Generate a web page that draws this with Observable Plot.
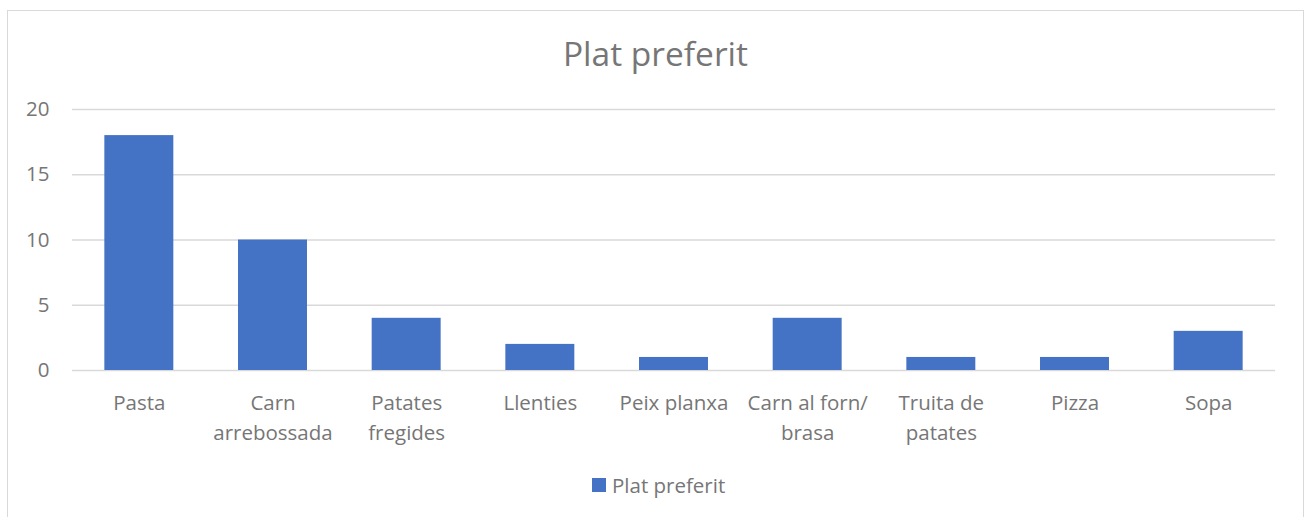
<!DOCTYPE html>
<html>
<head>
<meta charset="utf-8">
<script src="https://cdn.jsdelivr.net/npm/d3@7"></script>
<script src="https://cdn.jsdelivr.net/npm/@observablehq/plot@0.6"></script>
<style>
  html, body { margin: 0; padding: 0; background: #fff; }
  #wrap { position: relative; width: 1309px; height: 517px; overflow: hidden; font-family: "Open Sans", sans-serif; }
  #frame { position: absolute; left: 7px; top: 10px; width: 1297px; height: 520px; border: 1px solid #d9d9d9; box-sizing: border-box; }
  #title { position: absolute; left: 7px; width: 1297px; top: 33px; line-height: 40px; text-align: center; font-size: 33.5px; color: #767676; }
  #chart { position: absolute; left: 0; top: 0; }
  #legend { position: absolute; top: 472px; left: 592px; height: 26px; font-size: 20.5px; line-height: 26px; color: #767676; display: flex; align-items: center; }
  #legend .sw { width: 14px; height: 14px; background: #4472C4; margin-right: 6px; }
</style>
</head>
<body>
<div id="wrap">
  <div id="frame"></div>
  <div id="chart"></div>
  <div id="title">Plat preferit</div>
  <div id="legend"><span class="sw"></span><span>Plat preferit</span></div>
</div>
<script>
const categories = ["Pasta", "Carn arrebossada", "Patates fregides", "Llenties", "Peix planxa", "Carn al forn/ brasa", "Truita de patates", "Pizza", "Sopa"];
const values = [18, 10, 4, 2, 1, 4, 1, 1, 3];
const tickLabels = ["Pasta", "Carn\narrebossada", "Patates\nfregides", "Llenties", "Peix planxa", "Carn al forn/\nbrasa", "Truita de\npatates", "Pizza", "Sopa"];
const yTicks = [0, 5, 10, 15, 20];

const data = categories.map((c, i) => ({category: c, value: values[i]}));
const labelOf = new Map(categories.map((c, i) => [c, tickLabels[i]]));

const chart = Plot.plot({
  width: 1309,
  height: 470,
  marginTop: 109,
  marginBottom: 100,
  marginLeft: 72,
  marginRight: 34,
  style: { fontFamily: "'Open Sans', sans-serif", fontSize: "20.5px", color: "#767676", background: "transparent" },
  x: { domain: categories, paddingInner: 0.484, paddingOuter: 0.242, round: false, label: null },
  y: { domain: [0, 20], label: null },
  marks: [
    Plot.ruleY(yTicks, { stroke: "#d9d9d9", strokeWidth: 1.3, strokeOpacity: 1 }),
    Plot.barY(data, { x: "category", y: "value", fill: "#4472C4" }),
    Plot.axisY(yTicks, { tickSize: 0, tickPadding: 23, fill: "#767676", fontSize: 20.5, label: null }),
    Plot.axisX({ tickSize: 0, tickPadding: 18, fill: "#767676", fontSize: 20.5, lineHeight: 1.46, tickFormat: d => labelOf.get(d), label: null })
  ]
});
document.getElementById("chart").appendChild(chart);
</script>
</body>
</html>
